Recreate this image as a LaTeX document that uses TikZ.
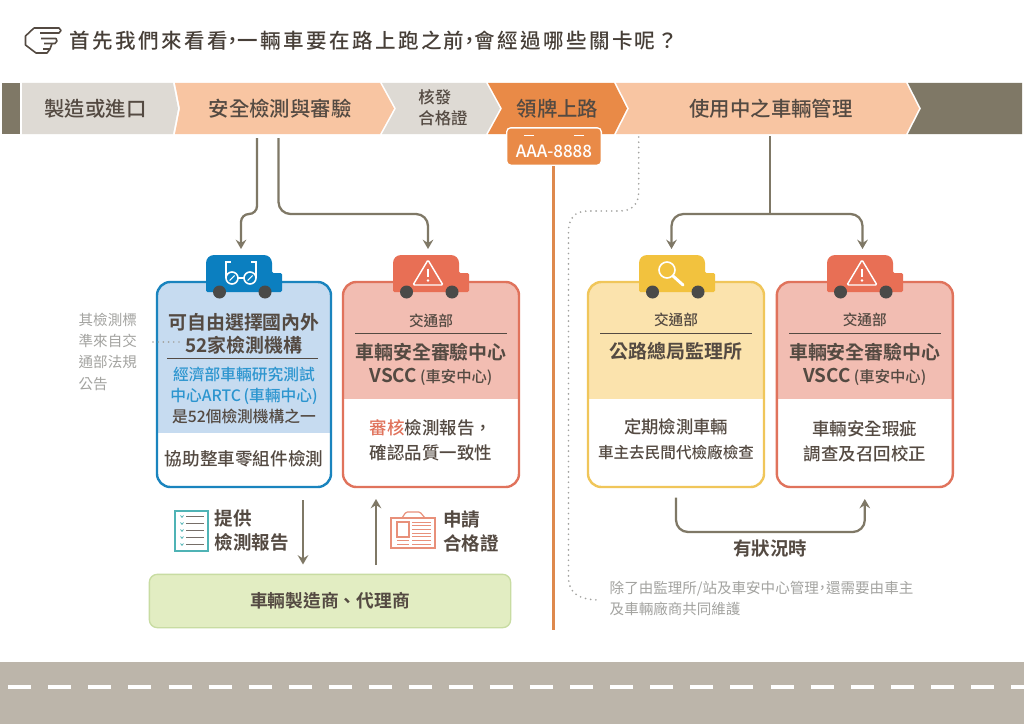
\documentclass[tikz,border=0pt]{standalone}
\usepackage{fontspec}
\setmainfont{Noto Sans CJK TC Medium}[BoldFont=Noto Sans CJK TC Bold]
\newfontfamily\lightcjk{Noto Sans CJK TC}
\usetikzlibrary{arrows.meta}
\definecolor{darkbar}{HTML}{7F7866}
\definecolor{graybar}{HTML}{DEDAD4}
\definecolor{peachbar}{HTML}{F8C5A2}
\definecolor{orangebar}{HTML}{E98A47}
\definecolor{inktext}{HTML}{544A42}
\definecolor{notegray}{HTML}{A3A3A0}
\definecolor{wheelgray}{HTML}{4A4A48}
\definecolor{blueline}{HTML}{1A84BE}
\definecolor{bluefill}{HTML}{C6DBF0}
\definecolor{bluetext}{HTML}{2C95CF}
\definecolor{redline}{HTML}{E0735C}
\definecolor{redfill}{HTML}{F2BDB2}
\definecolor{yellowline}{HTML}{F0C65A}
\definecolor{yellowfill}{HTML}{FBE3AD}
\definecolor{vanblue}{HTML}{0B7FC0}
\definecolor{vanred}{HTML}{E86F55}
\definecolor{vanyellow}{HTML}{F2C23E}
\definecolor{greenline}{HTML}{C8DCA2}
\definecolor{greenfill}{HTML}{E2EDC2}
\definecolor{roadgray}{HTML}{BCB5AA}
\definecolor{tealline}{HTML}{4FB3B5}
\definecolor{salmonline}{HTML}{E8907A}
\newcommand{\hc}{\makebox[0.5em]{，}}
\newcommand{\van}[2]{%
  \begin{scope}[shift={(#1,0)}]
  \fill[#2, rounded corners=6pt] (0,292) -- (0,255) -- (66,255) [rounded corners=1pt] -- (66,273) -- (76,273) -- (76,292) -- cycle;
  \foreach \w in {13.5,59} \fill[wheelgray] (\w,292) circle[radius=6.5];
  \end{scope}}
\newcommand{\warnsign}[1]{%
  \draw[white, line width=1.1pt, rounded corners=1pt] (#1,260) -- (#1+15,285) -- (#1-15,285) -- cycle;
  \draw[white, line width=1.8pt] (#1,268.5) -- (#1,277);
  \fill[white] (#1,280.5) circle[radius=1.4];}
\newcommand{\card}[6]{%
  \node[cardbox, draw=#4, minimum width=#3*0.75pt,
    path picture={\fill[#5, sharp corners] (path picture bounding box.north west) rectangle ([yshift=-#6*0.75pt]path picture bounding box.north east);}]
    (#1) at (#2,384.5) {};}
\tikzset{
  bartext/.style={text=inktext, font=\fontsize{15.3pt}{18pt}\selectfont},
  barsmall/.style={text=inktext, align=left, font=\fontsize{12.3pt}{15.7pt}\selectfont},
  titletext/.style={anchor=west, text=inktext!85!black, font=\fontsize{15.4pt}{18pt}\selectfont\addfontfeature{LetterSpace=11.5}},
  cardbox/.style={rounded corners=10pt, line width=1.8pt, minimum height=205*0.75pt, inner sep=0pt, outer sep=0pt},
  orghead/.style={text=inktext, font=\fontsize{11pt}{14pt}\selectfont},
  orgname/.style={text=inktext, align=center, font=\bfseries\fontsize{14.2pt}{17.3pt}\selectfont},
  bodytext/.style={text=inktext, align=center, font=\fontsize{13.1pt}{18.7pt}\selectfont},
  sidetext/.style={text=notegray, align=left, anchor=west, font=\lightcjk\fontsize{10.9pt}{16pt}\selectfont},
  sidelabel/.style={text=inktext, align=left, anchor=west, font=\bfseries\fontsize{13.9pt}{17.5pt}\selectfont},
  rulesep/.style={draw=inktext, line width=0.7pt},
  flow/.style={draw=darkbar, line width=1.7pt, >={Stealth[length=7pt,width=8pt,inset=2.5pt]}},
  dotline/.style={draw=notegray, line width=1.4pt, line cap=round, dash pattern=on 0pt off 3.9pt},
}
\begin{document}
\begin{tikzpicture}[x=0.75pt,y=-0.75pt]
\useasboundingbox (0,0) rectangle (1024,724);
\fill[white] (0,0) rectangle (1024,724);
%
\draw[inktext, line width=1.2pt, line join=round] (34,28) -- (59,28) -- (61,30.5) -- (59,33) -- (40,33);
\draw[inktext, line width=1.2pt, line join=round] (34,28) -- (25.5,36) -- (25.5,45) -- (36,53) -- (47,53) -- (50,49) -- (43,49);
\draw[inktext, line width=1.2pt, line join=round] (41,38.5) -- (56,38.5) -- (57,41) -- (55,43.5) -- (44,43.5);
\draw[inktext, line width=1.2pt, line join=round] (52,43.5) -- (50,49);
\node[titletext] (title) at (65,41) {首先我們來看看\hc 一輛車要在路上跑之前\hc 會經過哪些關卡呢？};
%
\fill[darkbar] (2,83) rectangle (20,134);
\fill[graybar] (22,83) -- (173,83) -- (178,108.5) -- (173,134) -- (22,134) -- cycle;
\fill[peachbar] (175,83) -- (380,83) -- (394,108.5) -- (380,134) -- (175,134) -- (180,108.5) -- cycle;
\fill[graybar] (382,83) -- (486,83) -- (500,108.5) -- (486,134) -- (382,134) -- (396,108.5) -- cycle;
\fill[orangebar] (488,83) -- (614,83) -- (627,108.5) -- (614,134) -- (488,134) -- (502,108.5) -- cycle;
\fill[peachbar] (616,83) -- (906,83) -- (919,108.5) -- (906,134) -- (616,134) -- (629,108.5) -- cycle;
\fill[darkbar] (908,83) -- (1022,83) -- (1022,134) -- (908,134) -- (921,108.5) -- cycle;
%
\node[bartext] (barMake) at (95.5,108.5) {製造或進口};
\node[bartext] (barTest) at (280,108.5) {安全檢測與審驗};
\node[barsmall] (barCert) at (443,108) {核發\\合格證};
\node[bartext] (barPlate) at (557.5,108.5) {領牌上路};
\node[bartext] (barUse) at (771,108.5) {使用中之車輛管理};
%
\fill[roadgray] (0,662) rectangle (1024,724);
\draw[white, line width=2.3pt, dash pattern=on 17.3pt off 12.8pt] (8,687) -- (1024,687);
%
\draw[orangebar!90!gray, line width=2.6pt] (553.7,160) -- (553.7,630);
\node[draw=white, fill=orangebar, line width=1pt, rounded corners=3pt, minimum width=71pt, minimum height=28pt, inner sep=0pt] (plate) at (554,146.5) {};
\fill[white] (524,134.5) rectangle (534,136);
\fill[white] (574,134.5) rectangle (584,136);
\node[text=white, font=\fontsize{12.7pt}{15pt}\selectfont] (plateNo) at (554,151) {AAA-8888};
%
\coordinate (testL) at (257,138);
\coordinate (testR) at (278.5,138);
\coordinate (useTop) at (770,136);
\coordinate (fork) at (770,214);
\coordinate (vanBlueTop) at (241,249);
\coordinate (vanRedTop) at (428,249);
\coordinate (vanYellowTop) at (671.5,249);
\coordinate (vanRedBTop) at (862.5,249);
\coordinate (noteStart) at (638.7,137);
\coordinate (noteEnd) at (600,600);
%
\draw[dotline] (noteStart) -- (638.7,192) .. controls (638.7,204) and (632,211) .. (620,211) -- (588,211) .. controls (575,211) and (568.5,218) .. (568.5,232) -- (568.5,578) .. controls (568.5,592) and (578,600) .. (noteEnd);
%
\card{cardBlue}{244}{174}{blueline}{bluefill}{151}
\card{cardRed}{431}{176}{redline}{redfill}{117}
\card{cardYellow}{676}{176}{yellowline}{yellowfill}{117}
\card{cardRedB}{864.8}{176}{redline}{redfill}{117}
%
\van{206}{vanblue}
\van{393}{vanred}
\van{639}{vanyellow}
\van{827}{vanred}
%
\draw[white, line width=1.2pt] (232,278) circle[radius=6];
\draw[white, line width=1.2pt] (250,278) circle[radius=6];
\draw[white, line width=1.2pt] (238,278) -- (244,278);
\draw[white, line width=0.8pt] (229.5,280.5) -- (234.5,275.5);
\draw[white, line width=0.8pt] (247.5,280.5) -- (252.5,275.5);
\draw[white, line width=1.2pt] (226,278) -- (226,262) -- (231,262);
\draw[white, line width=1.2pt] (256,278) -- (256,262) -- (251,262);
\warnsign{428}
\warnsign{862}
\draw[white, line width=1.2pt] (667,270) circle[radius=8];
\draw[white, line width=2.2pt, line cap=round] (673,276) -- (683,285);
%
\draw[flow,->,rounded corners=6pt] (testL) -- (testL |- fork) -| (vanBlueTop);
\draw[flow,->,rounded corners=9pt] (testR) -- (testR |- fork) -| (vanRedTop);
\draw[flow] (useTop) -- (fork);
\draw[flow,<->,rounded corners=9pt] (vanYellowTop) |- (fork) -| (vanRedBTop);
\draw[flow,->,rounded corners=9pt] ([yshift=-8pt]cardYellow.south) |- (770,532) -| ([yshift=-9pt]cardRedB.south);
%
\draw[dotline] (153,342) -- (181,342);
\node[sidetext] (sideNote) at (74,351.5) {其檢測標\\準來自交\\通部法規\\公告};
%
\node[orgname] (blueTitle) at (244,333.5) {可自由選擇國內外\\52家檢測機構};
\draw[rulesep] (167,358) -- (318,358);
\node[align=center, text=bluetext, font=\fontsize{11.8pt}{16.1pt}\selectfont] (blueOrg) at (244,395.5) {經濟部車輛研究測試\\中心ARTC\,(車輛中心)\\\textcolor{inktext}{是52個檢測機構之一}};
\node[bodytext, font=\fontsize{13.2pt}{18pt}\selectfont] (blueBody) at (244,459) {協助整車零組件檢測};
%
\node[orghead] (redHead) at (431,321) {交通部};
\draw[rulesep] (355,333) -- (507,333);
\node[orgname] (redTitle) at (431,364.5) {車輛安全審驗中心\\VSCC\,{\mdseries\fontsize{11.5pt}{17pt}\selectfont (車安中心)}};
\node[bodytext] (redBody) at (431,440.5) {\textcolor{redline}{審核}檢測報告，\\確認品質一致性};
%
\node[orghead] (yellowHead) at (676,320) {交通部};
\draw[rulesep] (600,333) -- (752,333);
\node[orgname] (yellowTitle) at (676,351) {公路總局監理所};
\node[bodytext, font=\fontsize{13pt}{18pt}\selectfont] (yellowBody) at (676,427) {定期檢測車輛};
\node[text=inktext, font=\fontsize{11.7pt}{15pt}\selectfont] (yellowSub) at (676,452) {車主去民間代檢廠檢查};
%
\node[orghead] (redBHead) at (864.8,320) {交通部};
\draw[rulesep] (789,333) -- (941,333);
\node[orgname] (redBTitle) at (864.8,364) {車輛安全審驗中心\\VSCC\,{\mdseries\fontsize{11.5pt}{17pt}\selectfont (車安中心)}};
\node[bodytext] (redBBody) at (864.8,441) {車輛安全瑕疵\\調查及召回校正};
%
\node[text=inktext, font=\bfseries\fontsize{13.8pt}{17pt}\selectfont] (whenIssue) at (770,549) {有狀況時};
\node[sidetext] (useNote) at (605,598.5) {除了由監理所/站及車安中心管理\hc 還需要由車主\\及車輛廠商共同維護};
%
\node[draw=greenline, fill=greenfill, line width=1pt, rounded corners=6pt, minimum width=271pt, minimum height=40pt, inner sep=0pt, text=inktext, font=\bfseries\fontsize{13.3pt}{16pt}\selectfont] (maker) at (330,601) {車輛製造商、代理商};
\coordinate (reportTop) at (303,500);
\coordinate (applyTop) at (376,499);
\draw[flow,->] (reportTop) -- (reportTop |- 0,564.5);
\draw[flow,->] (applyTop |- 0,565) -- (applyTop);
%
\draw[tealline, line width=0.9pt] (175,511) rectangle (208,551);
\foreach \y in {516.5,523.5,530.5,537.5,544.5} {
  \draw[tealline, line width=0.6pt] (180.5,\y-1) -- (182,\y+0.8) -- (183.5,\y-1);
  \draw[inktext!80, line width=0.7pt] (186,\y) -- (204,\y);
}
\node[sidelabel] (reportText) at (210,530.5) {提供\\檢測報告};
%
\draw[salmonline, line width=0.9pt] (391,518) rectangle (435,548);
\draw[salmonline, line width=0.9pt, rounded corners=1pt] (402,518) -- (406,512) -- (420,512) -- (425,518);
\draw[salmonline, line width=0.9pt] (397,522) rectangle (409,537);
\foreach \y in {540.5,544.5} \draw[salmonline, line width=0.7pt] (397,\y) -- (409,\y);
\foreach \y in {522,525.7,529.4,533.1,536.8,540.5,544.2} \draw[salmonline, line width=0.7pt] (412,\y) -- (431,\y);
\node[sidelabel] (applyText) at (438.5,531.5) {申請\\合格證};
\end{tikzpicture}
\end{document}
